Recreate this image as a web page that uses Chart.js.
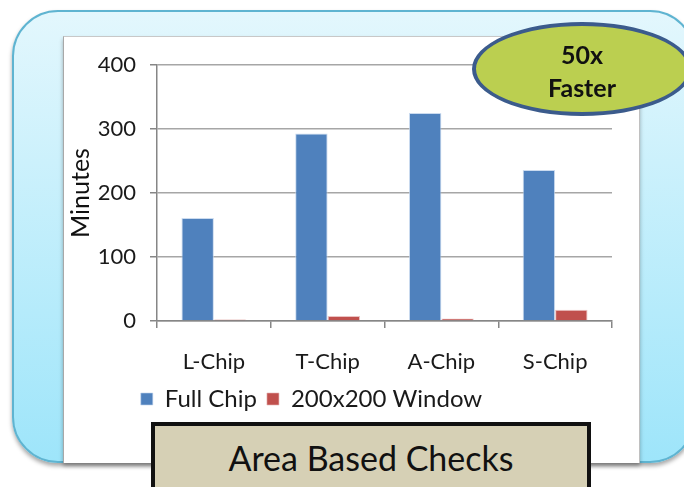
<!DOCTYPE html>
<html>
<head>
<meta charset="utf-8">
<script src="https://cdn.jsdelivr.net/npm/chart.js@4"></script>
<style>
  html, body { margin:0; padding:0; width:684px; height:487px; overflow:hidden; background:#fff; }
  #outer { position:absolute; left:12px; top:10px; width:680px; height:449px; border:2px solid #5fb4d1;
    border-radius:46px; background:linear-gradient(#e3f7fd, #9ee5fa); box-shadow:0 3px 4px rgba(0,0,0,0.35); }
  #panel { position:absolute; left:63px; top:36px; width:575px; height:426px; background:#fff;
    border-left:1px solid #a8a8a8; border-top:1px solid #c8c8c8; border-right:1px solid #c0c0c0; box-shadow:0 3px 4px rgba(0,0,0,0.3); }
  #cv { position:absolute; left:0; top:0; }
  #badge { position:absolute; left:472px; top:22px; width:212px; border:4px solid #3b5b8c;
    border-radius:50%; background:#bbcf50; font-family:Lato, sans-serif; font-weight:bold; font-size:25px;
    color:#111; text-align:center; line-height:33px; padding-top:12px; box-sizing:content-box; height:74px; }
  #box { position:absolute; left:151px; top:422px; width:432px; height:80px; border:4px solid #111;
    background:#d6d0b5; font-family:Lato, sans-serif; font-size:34px; color:#111; text-align:center; line-height:64px; }
</style>
</head>
<body>
<div id="outer"></div>
<div id="panel"></div>
<canvas id="cv" width="684" height="487"></canvas>
<div id="badge">50x<br>Faster</div>
<div id="box">Area Based Checks</div>
<script>
const categories = ["L-Chip", "T-Chip", "A-Chip", "S-Chip"];
const fullChip = [161, 293, 325, 236];
const window200 = [2.5, 8, 4, 17.5];
const yTicks = [0, 100, 200, 300, 400];

const canvas = document.getElementById('cv');
canvas.style.width = '684px';
canvas.style.height = '487px';

new Chart(canvas, {
  type: 'bar',
  data: {
    labels: categories,
    datasets: [
      { label: 'Full Chip', data: fullChip, backgroundColor: '#4f81bd', borderColor: 'rgba(190,210,235,0.8)', borderWidth: {left:1,right:1,top:1,bottom:0} },
      { label: '200x200 Window', data: window200, backgroundColor: '#c0504d', borderColor: 'rgba(230,180,180,0.8)', borderWidth: {left:1,right:1,top:1,bottom:0} }
    ]
  },
  options: {
    responsive: false,
    animation: false,
    devicePixelRatio: 1,
    layout: { padding: { left: 11, right: 72, top: 65, bottom: 66 } },
    datasets: { bar: { categoryPercentage: 0.57, barPercentage: 1 } },
    plugins: {
      legend: {
        position: 'bottom',
        labels: { font: { family: 'Lato', size: 24 }, color: '#1a1a1a', boxWidth: 12, boxHeight: 12, padding: 10 }
      },
      tooltip: { enabled: false }
    },
    scales: {
      y: {
        min: 0, max: 400,
        afterBuildTicks: s => { s.ticks = yTicks.map(v => ({ value: v })); },
        afterFit: s => { s.width = 146; },
        ticks: { font: { family: 'Lato', size: 22 }, color: '#1a1a1a', padding: 14 },
        grid: { color: '#a6a6a6', lineWidth: 1.5, tickLength: 7, tickColor: '#868686' },
        border: { color: '#868686', width: 1.5 },
        title: { display: true, text: 'Minutes', font: { family: 'Lato', size: 25 }, color: '#111', padding: { top: 55, bottom: 0 } }
      },
      x: {
        afterFit: s => { s.height = 56; },
        ticks: { font: { family: 'Lato', size: 22 }, color: '#1a1a1a', padding: 21 },
        grid: { drawOnChartArea: false, offset: true, tickLength: 7, color: '#868686', lineWidth: 1.5 },
        border: { color: '#868686', width: 1.5 }
      }
    }
  }
});
</script>
</body>
</html>
